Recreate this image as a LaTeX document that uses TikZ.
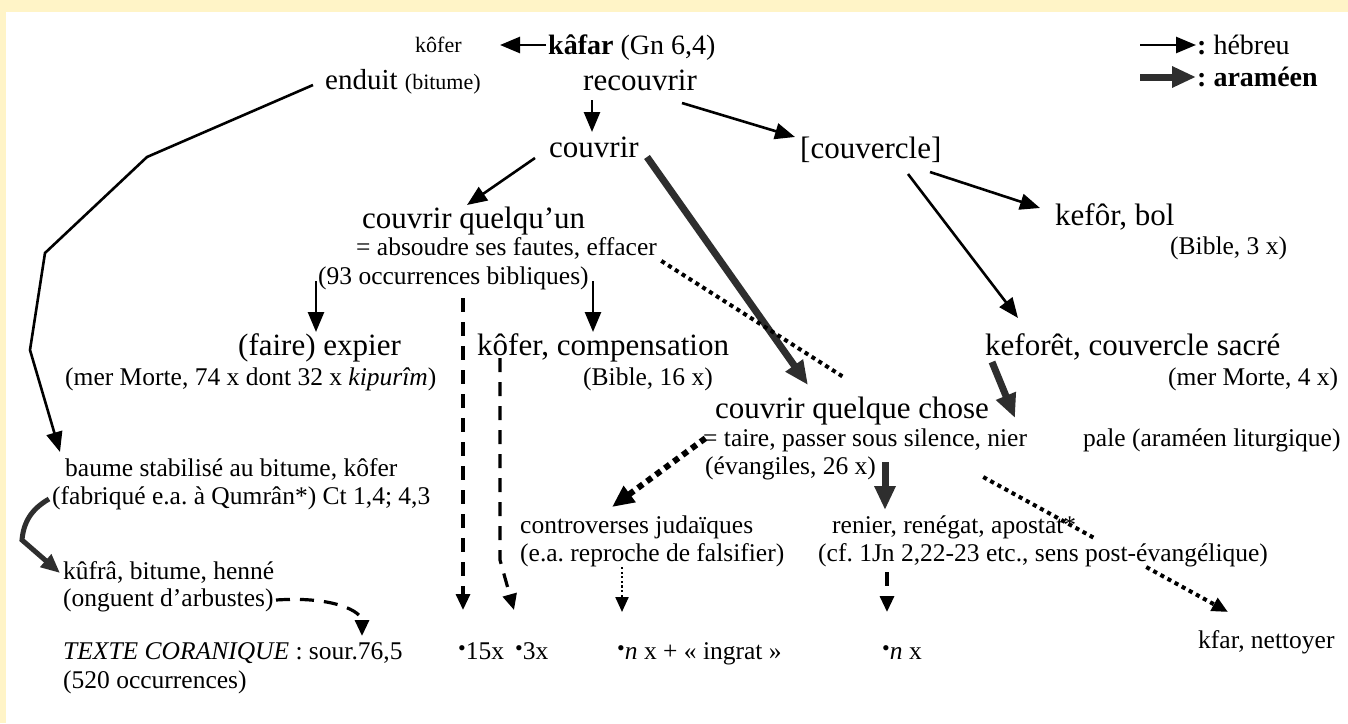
\documentclass[tikz,border=0pt]{standalone}
\usepackage{fontspec}
\setmainfont{Liberation Serif}
\usetikzlibrary{arrows.meta,calc}
\definecolor{bgyellow}{RGB}{255,244,199}
\frenchspacing
\newcommand\Lg{\fontsize{31}{36}\selectfont}
\newcommand\Md{\fontsize{28}{32}\selectfont}
\newcommand\Sm{\fontsize{25.5}{30}\selectfont}
\newcommand\Xs{\fontsize{22}{26}\selectfont}
\newcommand\bul{{\fontsize{22}{22}\selectfont\raisebox{4pt}{•}}}
\begin{document}
\begin{tikzpicture}[x=1pt,y=-1pt,
  lbl/.style={anchor=base west,inner sep=0pt},
  heb/.style={line width=2.6pt,-{Triangle[length=20pt,width=16pt]}},
  aram/.style={line width=7pt,draw=black!82,-{Triangle[length=24pt,width=20pt]}},
  aramc/.style={line width=5pt,draw=black!82,-{Triangle[length=19pt,width=16pt]}},
  dsh/.style={line width=3.2pt,dash pattern=on 14pt off 10pt,-{Triangle[length=16pt,width=14pt]}},
  dotA/.style={line width=4pt,line cap=rect,dash pattern=on 0.1pt off 8pt},
  dotB/.style={line width=6pt,line cap=rect,dash pattern=on 0.1pt off 11pt,-{Triangle[length=22pt,width=19pt]}},
  dotC/.style={line width=2.2pt,line cap=rect,dash pattern=on 0.1pt off 4.5pt,-{Triangle[length=15pt,width=13pt]}},
  tipS/.style={-{Triangle[length=16pt,width=14pt]}}
]
\useasboundingbox (0,0) rectangle (1348,723);
\fill[bgyellow] (0,0) rectangle (1348,723);
\fill[white] (6,12) rectangle (1348,723);

% nodes
\node[lbl] (kofer) at (415,52) {\Xs kôfer};
\node[lbl] (kafar) at (548,54) {\Md\textbf{kâfar} (Gn 6,4)};
\node[lbl] (enduit) at (325,89) {\fontsize{29}{34}\selectfont enduit \Xs(bitume)};
\node[lbl] (recouvrir) at (583,90) {\Lg recouvrir};
\node[lbl] (couvrir) at (549,157) {\Lg couvrir};
\node[lbl] (couvercle) at (800,158) {\Lg [couvercle]};
\node[lbl] (cqun) at (362,228) {\Lg couvrir quelqu’un};
\node[lbl] (absoudre) at (356,255) {\Sm = absoudre ses fautes, effacer};
\node[lbl] (occ93) at (318,284) {\Sm (93 occurrences bibliques)};
\node[lbl] (expier) at (238,355) {\Lg (faire) expier};
\node[lbl] (mermorte) at (65,385) {\Sm (mer Morte, 74 x dont 32 x \textit{kipurîm})};
\node[lbl] (compens) at (477,355) {\Lg kôfer, compensation};
\node[lbl] (bible16) at (583,385) {\Sm (Bible, 16 x)};
\node[lbl] (kefor) at (1055,225) {\Lg kefôr, bol};
\node[lbl] (bible3) at (1170,254) {\Sm (Bible, 3 x)};
\node[lbl] (keforet) at (985,355) {\Lg keforêt, couvercle sacré};
\node[lbl] (mermorte4) at (1168,385) {\Sm (mer Morte, 4 x)};
\node[lbl] (pale) at (1083,446) {\Sm pale (araméen liturgique)};
\node[lbl] (chose) at (715,418) {\Lg couvrir quelque chose};
\node[lbl] (taire) at (703,446) {\Sm = taire, passer sous silence, nier};
\node[lbl] (evang) at (705,474) {\Sm (évangiles, 26 x)};
\node[lbl] (controv) at (520,533) {\Sm controverses judaïques};
\node[lbl] (reproche) at (520,561) {\Sm (e.a. reproche de falsifier)};
\node[lbl] (renier) at (832,533) {\Sm renier, renégat, apostat*};
\node[lbl] (cf) at (818,561) {\Sm (cf. 1Jn 2,22-23 etc., sens post-évangélique)};
\node[lbl] (kfar) at (1198,648) {\Sm kfar, nettoyer};
\node[lbl] (baume) at (65,476) {\Sm baume stabilisé au bitume, kôfer};
\node[lbl] (fabrique) at (52,504) {\Sm (fabriqué e.a. à Qumrân*) Ct 1,4; 4,3};
\node[lbl] (kufra) at (63,579) {\Sm kûfrâ, bitume, henné};
\node[lbl] (onguent) at (63,606) {\Sm (onguent d’arbustes)};
\node[lbl] (coran) at (63,659) {\Sm\textit{TEXTE CORANIQUE} : sour.76,5};
\node[lbl] (occ520) at (63,688) {\Sm (520 occurrences)};
\node[lbl] (x15) at (458,659) {\Sm\bul15x};
\node[lbl] (x3) at (515,659) {\Sm\bul3x};
\node[lbl] (ingrat) at (617,659) {\Sm\bul\textit{n} x + « ingrat »};
\node[lbl] (nx) at (882,659) {\Sm\bul\textit{n} x};
\node[lbl] (hebleg) at (1197,54) {\Md\textbf{:} hébreu};
\node[lbl] (aramleg) at (1197,86) {\Md\textbf{: araméen}};

% legend
\coordinate (hl) at (1140,45);
\coordinate (al) at (1140,77);
\draw[heb] (hl) -- ($(hebleg.base west)+(-1,-9)$);
\draw[aram] (al) -- ($(aramleg.base west)+(-1,-9)$);

% connectors
\draw[heb] ($(kafar.base west)+(-2,-9)$) -- ($(kofer.base west)+(85,-7)$);
\draw[heb] ($(recouvrir.base west)+(9,10)$) -- ($(couvrir.base west)+(43,-25)$);
\draw[heb] ($(recouvrir.base west)+(99,13)$) -- ($(couvercle.base west)+(-5,-21)$);
\draw[heb] ($(couvrir.base west)+(-14,1)$) -- ($(cqun.base west)+(105,-23)$);
\draw[aram] ($(couvrir.base west)+(98,0)$) -- ($(chose.base west)+(93,-33)$);
\draw[heb] ($(occ93.base west)+(-2,-3)$) -- ($(expier.base west)+(78,-23)$);
\draw[heb] ($(occ93.base west)+(275,-3)$) -- ($(compens.base west)+(116,-23)$);
\draw[dsh] ($(occ93.base west)+(145,14)$) -- ($(x15.base west)+(5,-49)$);
\draw[dsh] ($(compens.base west)+(23,3)$) -- ($(compens.base west)+(23,205)$) -- ($(x3.base west)+(-1,-49)$);
\draw[dotA] ($(absoudre.base west)+(307,7)$) -- ($(chose.base west)+(130,-40)$);
\draw[heb] ($(couvercle.base west)+(130,14)$) -- ($(kefor.base west)+(-15,-17)$);
\draw[heb] ($(couvercle.base west)+(108,16)$) -- ($(keforet.base west)+(33,-37)$);
\draw[aram] ($(keforet.base west)+(7,7)$) -- ($(pale.base west)+(-68,-28)$);
\draw[dotB] ($(taire.base west)+(0,-6)$) -- ($(controv.base west)+(92,-26)$);
\draw[aram] ($(evang.base west)+(180,-12)$) -- ($(renier.base west)+(53,-23)$);
\coordinate (gap1) at (1096,539);
\coordinate (gap2) at (1148,568);
\draw[dotA] ($(taire.base west)+(282,32)$) -- (gap1);
\draw[dotA,tipS] (gap2) -- ($(kfar.base west)+(30,-36)$);
\draw[dotC] ($(reproche.base west)+(102,7)$) -- ($(ingrat.base west)+(5,-47)$);
\draw[dsh] ($(cf.base west)+(69,11)$) -- ($(nx.base west)+(5,-47)$);
\draw[heb] ($(enduit.base west)+(-12,-4)$) -- (147,157) -- (45,253) -- (30,350) -- ($(baume.base west)+(-5,-24)$);
\draw[aramc] ($(fabrique.base west)+(-3,-5)$) to[out=210,in=85] (22,540) -- ($(kufra.base west)+(-3,-6)$);
\draw[dsh] ($(onguent.base west)+(213,-6)$) .. controls (335,596) and (362,612) .. ($(coran.base west)+(299,-23)$);
\end{tikzpicture}
\end{document}
